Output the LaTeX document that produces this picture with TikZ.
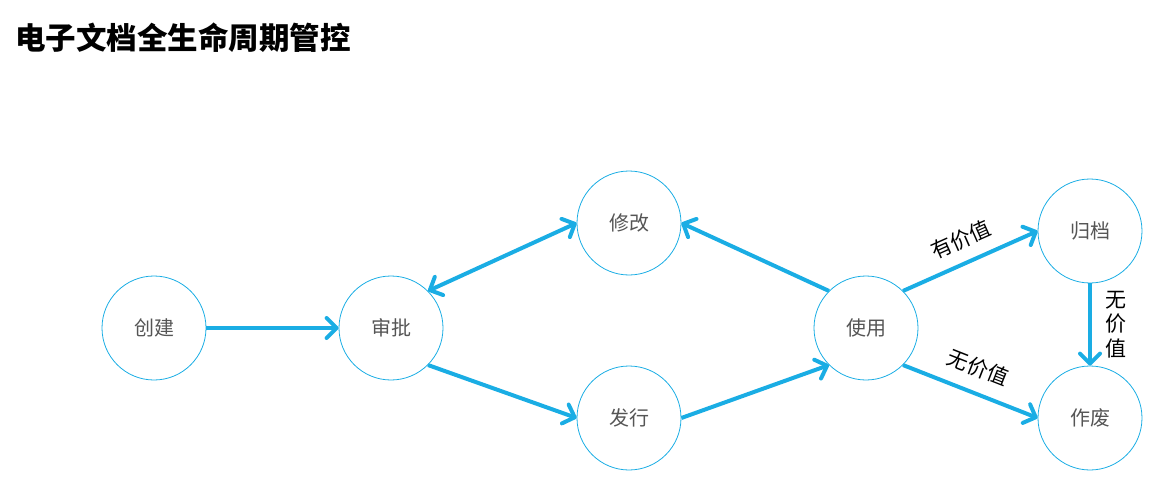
\documentclass[tikz,border=0pt]{standalone}
\usepackage{fontspec}
\setmainfont{Noto Sans CJK SC}
\newfontfamily\cjk{Noto Sans CJK SC}
\usetikzlibrary{arrows.meta}
\definecolor{cblue}{HTML}{1AADE4}
\definecolor{ctext}{HTML}{555555}
\begin{document}
\begin{tikzpicture}[x=1pt,y=-1pt,
  stage/.style={circle,draw=cblue,line width=0.8pt,minimum size=104pt,inner sep=0pt,font=\cjk\fontsize{20}{20}\selectfont,text=ctext},
  flow/.style={draw=cblue,line width=4pt,-{Straight Barb[length=10pt,width=20pt,line cap=round,line join=round]}},
  lbl/.style={font=\cjk\fontsize{21}{21}\selectfont,text=black}]
\useasboundingbox (0,0) rectangle (1163,487);
\node[anchor=west,inner sep=0pt,font=\cjk\bfseries\fontsize{30.5}{30.5}\selectfont] (title) at (15,38) {电子文档全生命周期管控};
\node[stage] (create) at (154,328) {创建};
\node[stage] (review) at (391,328) {审批};
\node[stage] (modify) at (629,223) {修改};
\node[stage] (issue) at (629,418) {发行};
\node[stage] (use) at (866,328) {使用};
\node[stage] (archive) at (1090,231) {归档};
\node[stage] (void) at (1090,418) {作废};
\draw[flow] (create.east) -- (review.west);
\draw[flow,{Straight Barb[length=10pt,width=20pt,line cap=round,line join=round]}-{Straight Barb[length=10pt,width=20pt,line cap=round,line join=round]}] (review.45) -- (modify.west);
\draw[flow] (use.135) -- (modify.east);
\draw[flow] (review.-45) -- (issue.west);
\draw[flow] (issue.east) -- (use.-135);
\draw[flow] (use.45) -- node[lbl,above=8pt,sloped,pos=0.5] (lv) {有价值} (archive.west);
\draw[flow] (use.-45) -- node[lbl,above=10pt,sloped,pos=0.49] (ln) {无价值} (void.west);
\draw[flow] (archive.south) -- node[lbl,midway,xshift=26pt,align=center,inner sep=0pt,font=\cjk\fontsize{21}{24.5}\selectfont] (lv2) {无\\价\\值} (void.north);
\end{tikzpicture}
\end{document}
